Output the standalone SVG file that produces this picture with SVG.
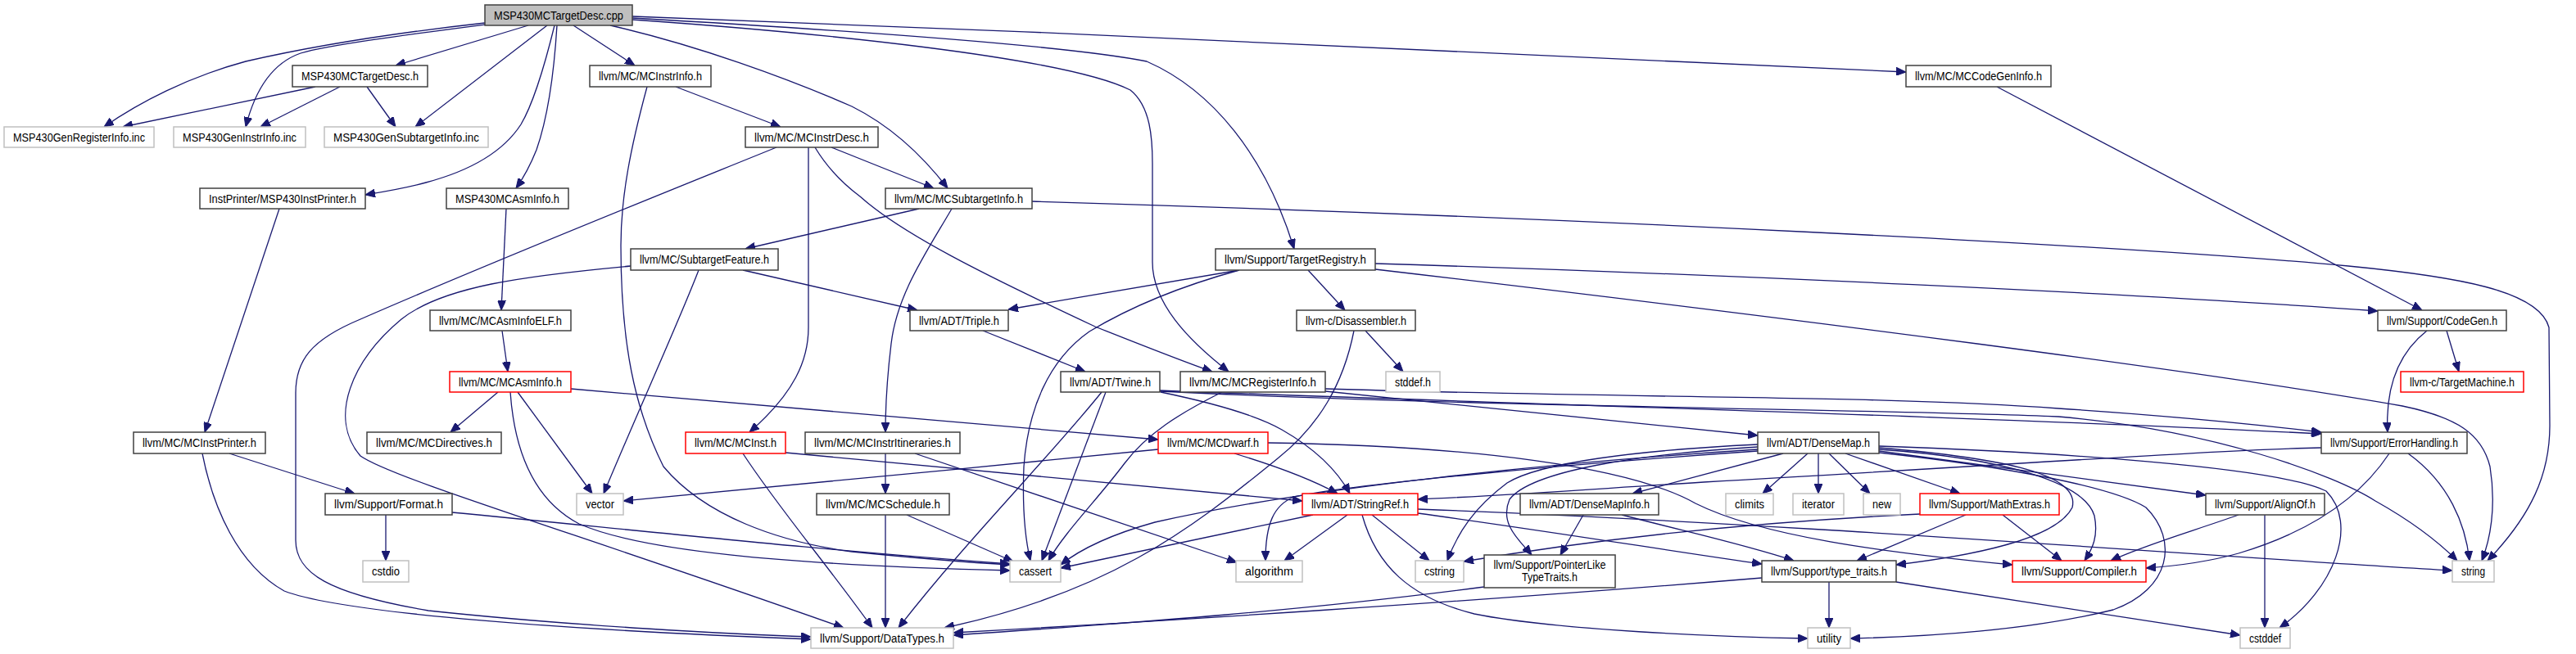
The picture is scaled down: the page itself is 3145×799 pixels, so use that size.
<svg xmlns="http://www.w3.org/2000/svg" width="3145" height="799" viewBox="0 0 3145 799">
<style>
.n rect{fill:#fff;stroke:#404040;stroke-width:1.5}
.g rect{stroke:#c0c0c0}
.r rect{stroke:#ff0000}
.root rect{fill:#bfbfbf}
text{font-family:"Liberation Sans",Arial,sans-serif;font-size:14px;text-anchor:middle;fill:#000}
#edges path{fill:none;stroke:#191970;stroke-width:1.3;marker-end:url(#a)}
</style>
<defs>
<marker id="a" viewBox="0 0 12 10" markerWidth="12" markerHeight="10" refX="12" refY="5" orient="auto" markerUnits="userSpaceOnUse"><path d="M0,0 L12,5 L0,10 z" fill="#191970" stroke="#191970" stroke-width="1"/></marker>
</defs>
<rect width="3145" height="799" fill="#fff"/>
<g id="edges">
<path d="M645,31 L483,80"/>
<path d="M592,28 C520,36 400,52 300,75 C230,94 170,125 127,155"/>
<path d="M592,30 C500,42 400,55 367,65 C330,78 310,115 300,155"/>
<path d="M668,31 L507,155"/>
<path d="M385,106 L150,155"/>
<path d="M415,106 L318,155"/>
<path d="M448,106 L483,155"/>
<path d="M677,31 C665,80 652,125 636,152 C616,183 580,207 520,223 C495,230 470,234 446,238"/>
<path d="M680,31 C677,80 670,140 655,183 C647,203 640,216 630,230"/>
<path d="M700,31 L775,80"/>
<path d="M745,31 C850,55 960,95 1040,130 C1090,155 1130,195 1157,230"/>
<path d="M772,20 C1300,40 1900,65 2327,88"/>
<path d="M772,22 C1000,35 1300,55 1400,75 C1480,110 1545,190 1580,304"/>
<path d="M772,24 C1000,40 1300,70 1380,110 C1405,130 1407,170 1407,200 L1407,320 C1407,370 1450,415 1500,454"/>
<path d="M825,106 L953,155"/>
<path d="M790,106 C770,180 758,240 758,300 C758,420 775,500 810,570 C860,630 950,662 1040,674 C1120,682 1180,687 1233,690"/>
<path d="M1015,180 L1140,230"/>
<path d="M995,180 C1010,205 1030,225 1050,240 C1100,285 1200,335 1337,399 C1390,420 1440,440 1480,454"/>
<path d="M987,180 L987,400 C987,440 970,480 915,528"/>
<path d="M948,180 C800,240 600,320 440,390 C380,415 361,440 361,480 L361,660 C361,700 400,725 523,746 C700,765 900,775 990,778"/>
<path d="M341,255 L250,528"/>
<path d="M618,255 L612,379"/>
<path d="M613,404 L620,454"/>
<path d="M608,479 L550,528"/>
<path d="M632,479 L723,603"/>
<path d="M623,479 C628,550 650,610 707,640 C780,672 950,690 1233,697"/>
<path d="M697,475 L1414,537"/>
<path d="M280,554 L433,603"/>
<path d="M247,554 C260,620 290,690 347,722 C420,750 700,770 990,781"/>
<path d="M471,629 L471,685"/>
<path d="M552,626 C800,650 1000,672 1233,689"/>
<path d="M907,330 L1120,379"/>
<path d="M853,330 C830,390 780,500 737,603"/>
<path d="M770,325 C640,337 540,350 490,390 C430,440 400,510 440,557 C480,585 700,650 1030,767"/>
<path d="M1122,255 L910,304"/>
<path d="M1162,255 C1130,310 1095,360 1088,420 C1082,470 1081,500 1081,528"/>
<path d="M1260,246 C1900,265 2600,300 2867,325 C3000,338 3100,355 3112,400 L3113,520 C3113,580 3090,630 3037,685"/>
<path d="M1513,330 L1231,378"/>
<path d="M1597,330 L1642,379"/>
<path d="M1679,322 C2100,335 2600,358 2903,380"/>
<path d="M1679,329 C2200,390 2700,455 2933,496 C3000,510 3030,530 3040,570 C3048,620 3040,660 3030,685"/>
<path d="M1513,330 C1440,350 1380,375 1330,405 C1280,440 1255,500 1250,570 C1248,620 1252,660 1258,685"/>
<path d="M1667,404 L1713,454"/>
<path d="M1653,404 C1640,470 1610,520 1560,560 C1450,650 1350,725 1153,767"/>
<path d="M2987,404 L3002,454"/>
<path d="M2963,404 C2930,430 2912,470 2915,528"/>
<path d="M2438,106 L2957,379"/>
<path d="M1200,404 L1325,454"/>
<path d="M1417,479 C1470,490 1530,505 1565,525 C1600,545 1630,570 1648,603"/>
<path d="M1350,479 L1272,685"/>
<path d="M1345,479 C1280,560 1180,660 1097,767"/>
<path d="M1416,477 C1800,492 2400,508 2834,530"/>
<path d="M1416,478 C1800,497 2300,500 2513,509 C2700,525 2850,580 2900,612 C2950,640 2980,665 3000,685"/>
<path d="M1618,475 C2000,487 2300,483 2513,499 C2650,508 2750,518 2834,528"/>
<path d="M1618,478 L2146,532"/>
<path d="M1492,479 C1440,505 1400,530 1373,566 C1340,610 1300,650 1280,685"/>
<path d="M1507,554 C1560,570 1600,585 1633,603"/>
<path d="M1414,549 C1200,570 900,600 761,612"/>
<path d="M1548,541 C1800,545 1990,570 2070,615 C2150,655 2300,675 2457,690"/>
<path d="M959,553 L1590,612"/>
<path d="M907,554 C950,620 1010,690 1065,767"/>
<path d="M1081,554 L1081,603"/>
<path d="M1117,554 L1510,687"/>
<path d="M1081,629 L1081,767"/>
<path d="M1107,629 L1237,686"/>
<path d="M1645,629 L1568,685"/>
<path d="M1675,629 L1745,685"/>
<path d="M1603,629 L1295,694"/>
<path d="M1663,629 C1680,690 1720,730 1800,750 C1900,770 2100,778 2207,780"/>
<path d="M1731,627 C1900,650 2050,675 2151,689"/>
<path d="M1731,622 C2200,640 2700,680 2994,697"/>
<path d="M1933,629 L1905,678"/>
<path d="M1980,629 C2060,650 2130,665 2190,685"/>
<path d="M1812,717 C1600,745 1400,760 1164,776"/>
<path d="M2151,706 C1800,735 1400,760 1164,773"/>
<path d="M2233,711 L2233,767"/>
<path d="M2315,711 L2735,776"/>
<path d="M2400,629 L2267,685"/>
<path d="M2445,629 L2517,685"/>
<path d="M2344,628 C2200,635 2000,650 1787,686"/>
<path d="M2733,629 C2680,648 2620,665 2577,685"/>
<path d="M2765,629 L2765,767"/>
<path d="M2917,554 C2880,610 2820,650 2733,676 C2690,688 2650,692 2620,694"/>
<path d="M2940,554 C2990,590 3010,640 3015,685"/>
<path d="M2834,547 C2700,550 2500,565 2080,589 C1950,597 1850,605 1731,610"/>
<path d="M2207,554 L2152,603"/>
<path d="M2220,554 L2220,603"/>
<path d="M2233,554 L2283,603"/>
<path d="M2253,554 L2393,603"/>
<path d="M2177,554 L1993,603"/>
<path d="M2146,543 C2000,550 1880,565 1840,590 C1800,620 1780,650 1767,685"/>
<path d="M2146,546 C2000,555 1870,575 1843,610 C1830,640 1855,660 1870,678"/>
<path d="M2146,549 C1900,565 1600,595 1410,638 C1360,652 1320,670 1295,690"/>
<path d="M2146,551 C1900,568 1650,592 1580,607 C1555,617 1545,640 1545,685"/>
<path d="M2294,547 C2450,560 2540,580 2530,620 C2510,660 2400,680 2315,690"/>
<path d="M2294,549 C2450,560 2545,590 2557,630 C2562,655 2555,670 2545,685"/>
<path d="M2294,551 L2693,605"/>
<path d="M2294,545 C2500,552 2780,570 2840,600 C2880,640 2850,720 2783,767"/>
<path d="M2294,553 C2450,570 2580,595 2620,620 C2660,660 2650,720 2580,745 C2480,770 2350,778 2259,780"/>
</g>
<g id="n0" class="n root"><rect x="592" y="6" width="180" height="25"/><text x="682" y="23.5" textLength="158" lengthAdjust="spacingAndGlyphs">MSP430MCTargetDesc.cpp</text></g>
<g id="n1" class="n"><rect x="357" y="80" width="165" height="26"/><text x="439.5" y="97.5" textLength="143" lengthAdjust="spacingAndGlyphs">MSP430MCTargetDesc.h</text></g>
<g id="n2" class="n"><rect x="720" y="80" width="148" height="26"/><text x="794" y="97.5" textLength="126" lengthAdjust="spacingAndGlyphs">llvm/MC/MCInstrInfo.h</text></g>
<g id="n3" class="n"><rect x="2327" y="80" width="177" height="26"/><text x="2415.5" y="97.5" textLength="155" lengthAdjust="spacingAndGlyphs">llvm/MC/MCCodeGenInfo.h</text></g>
<g id="n4" class="n g"><rect x="5" y="155" width="183" height="25"/><text x="96.5" y="172.5" textLength="161" lengthAdjust="spacingAndGlyphs">MSP430GenRegisterInfo.inc</text></g>
<g id="n5" class="n g"><rect x="212" y="155" width="161" height="25"/><text x="292.5" y="172.5" textLength="139" lengthAdjust="spacingAndGlyphs">MSP430GenInstrInfo.inc</text></g>
<g id="n6" class="n g"><rect x="396" y="155" width="200" height="25"/><text x="496" y="172.5" textLength="178" lengthAdjust="spacingAndGlyphs">MSP430GenSubtargetInfo.inc</text></g>
<g id="n7" class="n"><rect x="910" y="155" width="162" height="25"/><text x="991" y="172.5" textLength="140" lengthAdjust="spacingAndGlyphs">llvm/MC/MCInstrDesc.h</text></g>
<g id="n8" class="n"><rect x="244" y="230" width="202" height="25"/><text x="345" y="247.5" textLength="180" lengthAdjust="spacingAndGlyphs">InstPrinter/MSP430InstPrinter.h</text></g>
<g id="n9" class="n"><rect x="545" y="230" width="149" height="25"/><text x="619.5" y="247.5" textLength="127" lengthAdjust="spacingAndGlyphs">MSP430MCAsmInfo.h</text></g>
<g id="n10" class="n"><rect x="1081" y="230" width="179" height="25"/><text x="1170.5" y="247.5" textLength="157" lengthAdjust="spacingAndGlyphs">llvm/MC/MCSubtargetInfo.h</text></g>
<g id="n11" class="n"><rect x="770" y="304" width="180" height="26"/><text x="860" y="321.5" textLength="158" lengthAdjust="spacingAndGlyphs">llvm/MC/SubtargetFeature.h</text></g>
<g id="n12" class="n"><rect x="1484" y="304" width="195" height="26"/><text x="1581.5" y="321.5" textLength="173" lengthAdjust="spacingAndGlyphs">llvm/Support/TargetRegistry.h</text></g>
<g id="n13" class="n"><rect x="525" y="379" width="172" height="25"/><text x="611" y="396.5" textLength="150" lengthAdjust="spacingAndGlyphs">llvm/MC/MCAsmInfoELF.h</text></g>
<g id="n14" class="n"><rect x="1111" y="379" width="120" height="25"/><text x="1171" y="396.5" textLength="98" lengthAdjust="spacingAndGlyphs">llvm/ADT/Triple.h</text></g>
<g id="n15" class="n"><rect x="1583" y="379" width="145" height="25"/><text x="1655.5" y="396.5" textLength="123" lengthAdjust="spacingAndGlyphs">llvm-c/Disassembler.h</text></g>
<g id="n16" class="n"><rect x="2903" y="379" width="157" height="25"/><text x="2981.5" y="396.5" textLength="135" lengthAdjust="spacingAndGlyphs">llvm/Support/CodeGen.h</text></g>
<g id="n17" class="n r"><rect x="549" y="454" width="148" height="25"/><text x="623" y="471.5" textLength="126" lengthAdjust="spacingAndGlyphs">llvm/MC/MCAsmInfo.h</text></g>
<g id="n18" class="n"><rect x="1295" y="454" width="121" height="25"/><text x="1355.5" y="471.5" textLength="99" lengthAdjust="spacingAndGlyphs">llvm/ADT/Twine.h</text></g>
<g id="n19" class="n"><rect x="1441" y="454" width="177" height="25"/><text x="1529.5" y="471.5" textLength="155" lengthAdjust="spacingAndGlyphs">llvm/MC/MCRegisterInfo.h</text></g>
<g id="n20" class="n g"><rect x="1692" y="454" width="66" height="25"/><text x="1725" y="471.5" textLength="44" lengthAdjust="spacingAndGlyphs">stddef.h</text></g>
<g id="n21" class="n r"><rect x="2931" y="454" width="150" height="25"/><text x="3006" y="471.5" textLength="128" lengthAdjust="spacingAndGlyphs">llvm-c/TargetMachine.h</text></g>
<g id="n22" class="n"><rect x="163" y="528" width="161" height="26"/><text x="243.5" y="545.5" textLength="139" lengthAdjust="spacingAndGlyphs">llvm/MC/MCInstPrinter.h</text></g>
<g id="n23" class="n"><rect x="448" y="528" width="164" height="26"/><text x="530" y="545.5" textLength="142" lengthAdjust="spacingAndGlyphs">llvm/MC/MCDirectives.h</text></g>
<g id="n24" class="n r"><rect x="837" y="528" width="122" height="26"/><text x="898" y="545.5" textLength="100" lengthAdjust="spacingAndGlyphs">llvm/MC/MCInst.h</text></g>
<g id="n25" class="n"><rect x="983" y="528" width="189" height="26"/><text x="1077.5" y="545.5" textLength="167" lengthAdjust="spacingAndGlyphs">llvm/MC/MCInstrItineraries.h</text></g>
<g id="n26" class="n r"><rect x="1414" y="528" width="134" height="26"/><text x="1481" y="545.5" textLength="112" lengthAdjust="spacingAndGlyphs">llvm/MC/MCDwarf.h</text></g>
<g id="n27" class="n"><rect x="2146" y="528" width="148" height="26"/><text x="2220" y="545.5" textLength="126" lengthAdjust="spacingAndGlyphs">llvm/ADT/DenseMap.h</text></g>
<g id="n28" class="n"><rect x="2834" y="528" width="178" height="26"/><text x="2923" y="545.5" textLength="156" lengthAdjust="spacingAndGlyphs">llvm/Support/ErrorHandling.h</text></g>
<g id="n29" class="n"><rect x="397" y="603" width="155" height="26"/><text x="474.5" y="620.5" textLength="133" lengthAdjust="spacingAndGlyphs">llvm/Support/Format.h</text></g>
<g id="n30" class="n g"><rect x="704" y="603" width="57" height="26"/><text x="732.5" y="620.5" textLength="35" lengthAdjust="spacingAndGlyphs">vector</text></g>
<g id="n31" class="n"><rect x="997" y="603" width="162" height="26"/><text x="1078" y="620.5" textLength="140" lengthAdjust="spacingAndGlyphs">llvm/MC/MCSchedule.h</text></g>
<g id="n32" class="n r"><rect x="1590" y="603" width="141" height="26"/><text x="1660.5" y="620.5" textLength="119" lengthAdjust="spacingAndGlyphs">llvm/ADT/StringRef.h</text></g>
<g id="n33" class="n"><rect x="1856" y="603" width="169" height="26"/><text x="1940.5" y="620.5" textLength="147" lengthAdjust="spacingAndGlyphs">llvm/ADT/DenseMapInfo.h</text></g>
<g id="n34" class="n g"><rect x="2107" y="603" width="58" height="26"/><text x="2136" y="620.5" textLength="36" lengthAdjust="spacingAndGlyphs">climits</text></g>
<g id="n35" class="n g"><rect x="2189" y="603" width="62" height="26"/><text x="2220" y="620.5" textLength="40" lengthAdjust="spacingAndGlyphs">iterator</text></g>
<g id="n36" class="n g"><rect x="2275" y="603" width="45" height="26"/><text x="2297.5" y="620.5" textLength="23" lengthAdjust="spacingAndGlyphs">new</text></g>
<g id="n37" class="n r"><rect x="2344" y="603" width="170" height="26"/><text x="2429" y="620.5" textLength="148" lengthAdjust="spacingAndGlyphs">llvm/Support/MathExtras.h</text></g>
<g id="n38" class="n"><rect x="2693" y="603" width="145" height="26"/><text x="2765.5" y="620.5" textLength="123" lengthAdjust="spacingAndGlyphs">llvm/Support/AlignOf.h</text></g>
<g id="n39" class="n g"><rect x="443" y="685" width="56" height="26"/><text x="471" y="702.5" textLength="34" lengthAdjust="spacingAndGlyphs">cstdio</text></g>
<g id="n40" class="n g"><rect x="1233" y="685" width="62" height="26"/><text x="1264" y="702.5" textLength="40" lengthAdjust="spacingAndGlyphs">cassert</text></g>
<g id="n41" class="n g"><rect x="1509" y="685" width="81" height="26"/><text x="1549.5" y="702.5" textLength="59" lengthAdjust="spacingAndGlyphs">algorithm</text></g>
<g id="n42" class="n g"><rect x="1728" y="685" width="59" height="26"/><text x="1757.5" y="702.5" textLength="37" lengthAdjust="spacingAndGlyphs">cstring</text></g>
<g id="n43" class="n"><rect x="1812" y="678" width="160" height="40"/><text x="1892" y="695" textLength="137" lengthAdjust="spacingAndGlyphs">llvm/Support/PointerLike</text><text x="1892" y="710" textLength="68" lengthAdjust="spacingAndGlyphs">TypeTraits.h</text></g>
<g id="n44" class="n"><rect x="2151" y="685" width="164" height="26"/><text x="2233" y="702.5" textLength="142" lengthAdjust="spacingAndGlyphs">llvm/Support/type_traits.h</text></g>
<g id="n45" class="n r"><rect x="2457" y="685" width="163" height="26"/><text x="2538.5" y="702.5" textLength="141" lengthAdjust="spacingAndGlyphs">llvm/Support/Compiler.h</text></g>
<g id="n46" class="n g"><rect x="2994" y="685" width="51" height="26"/><text x="3019.5" y="702.5" textLength="29" lengthAdjust="spacingAndGlyphs">string</text></g>
<g id="n47" class="n g"><rect x="990" y="767" width="174" height="25"/><text x="1077" y="784.5" textLength="152" lengthAdjust="spacingAndGlyphs">llvm/Support/DataTypes.h</text></g>
<g id="n48" class="n g"><rect x="2207" y="767" width="52" height="25"/><text x="2233" y="784.5" textLength="30" lengthAdjust="spacingAndGlyphs">utility</text></g>
<g id="n49" class="n g"><rect x="2735" y="767" width="61" height="25"/><text x="2765.5" y="784.5" textLength="39" lengthAdjust="spacingAndGlyphs">cstddef</text></g>
</svg>
